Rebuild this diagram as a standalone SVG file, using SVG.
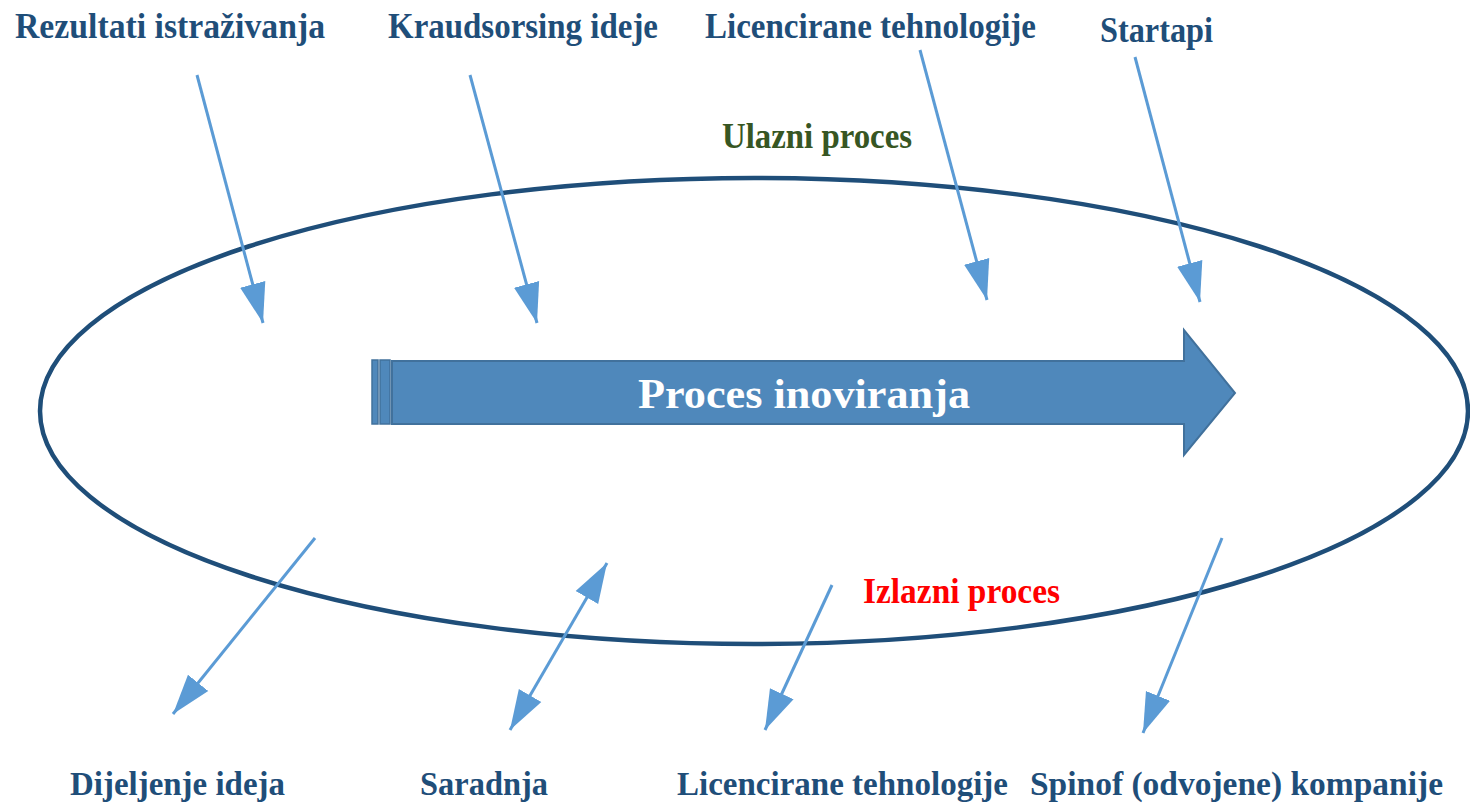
<svg xmlns="http://www.w3.org/2000/svg" width="1470" height="804" viewBox="0 0 1470 804">
<style>
.lbl{font-family:"Liberation Serif","DejaVu Serif",serif;font-weight:bold;fill:#1F4E79;font-size:35px}
.low{font-size:34px}
.conn{stroke:#5B9BD5;stroke-width:3;fill:none}
</style>
<defs>
<marker id="ah" markerUnits="userSpaceOnUse" markerWidth="44" markerHeight="30" refX="40" refY="13" orient="auto-start-reverse" viewBox="0 0 44 26">
<path d="M0,0 L40,13 L0,26 Z" fill="#5B9BD5"/>
</marker>
</defs>
<g id="ellipse">
<ellipse cx="754" cy="411" rx="714" ry="233" fill="none" stroke="#1F4E79" stroke-width="4.5"/>
</g>
<g id="main-arrow">
<rect x="372" y="360" width="6" height="64" fill="#4F88BB" stroke="#41719C" stroke-width="1.5"/>
<rect x="380" y="360" width="10" height="64" fill="#4F88BB" stroke="#41719C" stroke-width="1.5"/>
<path d="M392,361 L1184,361 L1184,330 L1235,393 L1184,455 L1184,424 L392,424 Z" fill="#4F88BB" stroke="#41719C" stroke-width="2"/>
<text x="804" y="408" text-anchor="middle" font-family="Liberation Serif, DejaVu Serif, serif" font-weight="bold" font-size="42" fill="#FFFFFF" textLength="332" lengthAdjust="spacingAndGlyphs">Proces inoviranja</text>
</g>
<g id="connectors">
<line class="conn" x1="197" y1="75" x2="263" y2="323" marker-end="url(#ah)"/>
<line class="conn" x1="470" y1="75" x2="537" y2="323" marker-end="url(#ah)"/>
<line class="conn" x1="920" y1="50" x2="987" y2="300" marker-end="url(#ah)"/>
<line class="conn" x1="1135" y1="57" x2="1200" y2="302" marker-end="url(#ah)"/>
<line class="conn" x1="315" y1="538" x2="173" y2="714" marker-end="url(#ah)"/>
<line class="conn" x1="510" y1="730" x2="607" y2="563" marker-start="url(#ah)" marker-end="url(#ah)"/>
<line class="conn" x1="832" y1="585" x2="765" y2="730" marker-end="url(#ah)"/>
<line class="conn" x1="1222" y1="538" x2="1143" y2="733" marker-end="url(#ah)"/>
</g>
<g id="in-labels">
<text class="lbl" x="15" y="38" textLength="310" lengthAdjust="spacingAndGlyphs">Rezultati  istraživanja</text>
<text class="lbl" x="388" y="38" textLength="270" lengthAdjust="spacingAndGlyphs">Kraudsorsing ideje</text>
<text class="lbl" x="705" y="38" textLength="331" lengthAdjust="spacingAndGlyphs">Licencirane tehnologije</text>
<text class="lbl" x="1100" y="42" textLength="113" lengthAdjust="spacingAndGlyphs">Startapi</text>
</g>
<g id="process-labels">
<text class="lbl" x="722" y="148" style="fill:#375623" textLength="190" lengthAdjust="spacingAndGlyphs">Ulazni proces</text>
<text class="lbl" x="863" y="603" style="fill:#FF0000" textLength="197" lengthAdjust="spacingAndGlyphs">Izlazni proces</text>
</g>
<g id="out-labels">
<text class="lbl low" x="70" y="795" textLength="215" lengthAdjust="spacingAndGlyphs">Dijeljenje ideja</text>
<text class="lbl low" x="420" y="795" textLength="128" lengthAdjust="spacingAndGlyphs">Saradnja</text>
<text class="lbl low" x="677" y="795" textLength="331" lengthAdjust="spacingAndGlyphs">Licencirane tehnologije</text>
<text class="lbl low" x="1030" y="795" textLength="413" lengthAdjust="spacingAndGlyphs">Spinof (odvojene) kompanije</text>
</g>
</svg>
